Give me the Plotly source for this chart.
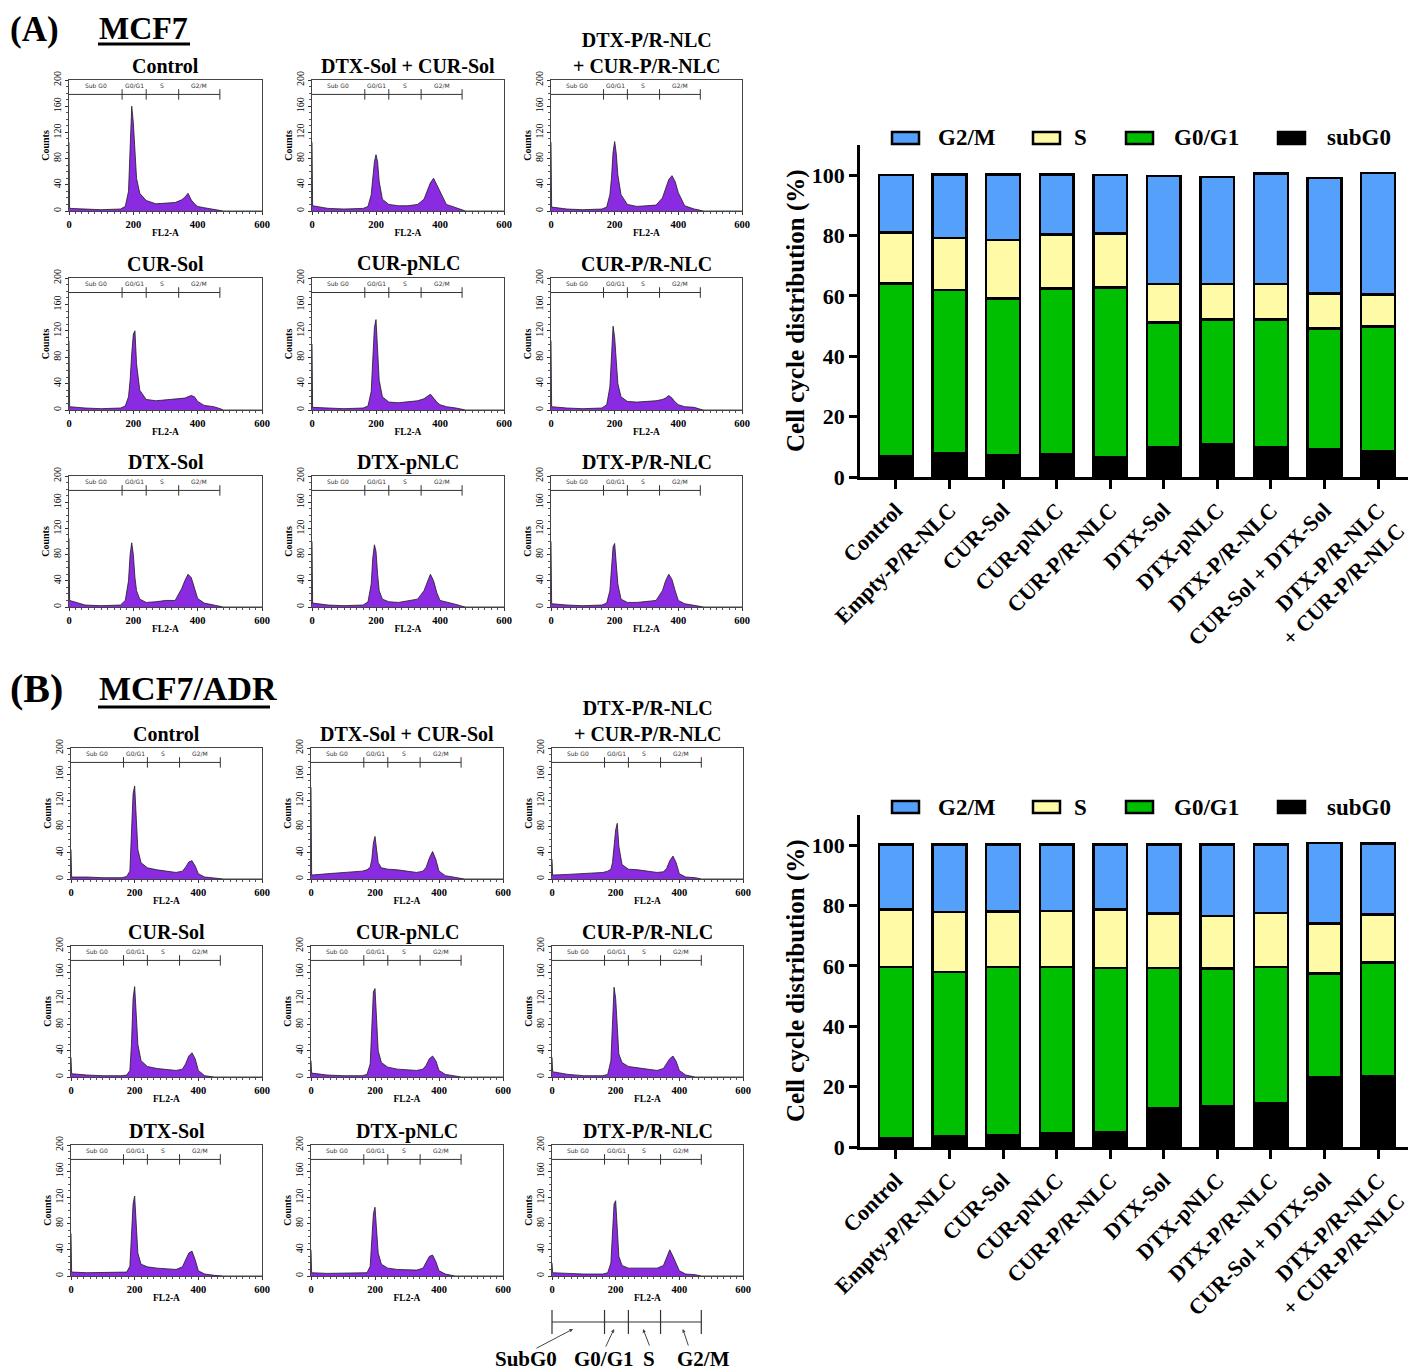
import plotly.graph_objects as go

W, H = 1416, 1372
OFF = 8  # page body margin of the browser
SERIF = "Liberation Serif"
PURPLE = "#8a2be2"

# ---------------- histogram data (counts read at FL2-A grid) ----------------
X_GRID = [0, 2, 50, 100, 160, 175, 185, 190, 195, 200, 205, 210, 220, 240, 270,
          300, 330, 350, 360, 370, 380, 390, 400, 420, 450, 470, 480, 600]

GATE_EDGES = [0, 165, 240, 341, 469]
GATE_NAMES = ["Sub G0", "G0/G1", "S", "G2/M"]
GATE_LEVEL = 178

HIST_TITLES = ["Control", "DTX-Sol + CUR-Sol", "DTX-P/R-NLC<br>+ CUR-P/R-NLC",
               "CUR-Sol", "CUR-pNLC", "CUR-P/R-NLC",
               "DTX-Sol", "DTX-pNLC", "DTX-P/R-NLC"]

# MCF7
a_control = [105, 4, 3, 2, 3, 7, 30, 85, 160, 135, 85, 50, 27, 16, 11, 12, 13, 17, 21, 27, 17, 11, 7, 5, 3, 1, 0, 0]
a_dtx_cur_sol = [105, 8, 4, 3, 4, 7, 25, 50, 75, 86, 75, 45, 18, 10, 8, 8, 10, 18, 32, 43, 50, 40, 28, 10, 5, 2, 0, 0]
a_dtx_cur_pr = [105, 6, 3, 2, 3, 6, 25, 50, 90, 106, 88, 55, 25, 10, 7, 8, 9, 20, 35, 48, 54, 45, 28, 8, 3, 1, 0, 0]
a_cur_sol = [105, 5, 3, 2, 3, 6, 20, 45, 85, 115, 120, 70, 30, 16, 14, 15, 16, 17, 18, 20, 22, 20, 13, 7, 5, 2, 0, 0]
a_cur_pnlc = [100, 4, 3, 2, 3, 6, 28, 75, 125, 137, 85, 45, 20, 12, 11, 12, 14, 17, 20, 24, 18, 12, 8, 5, 3, 1, 0, 0]
a_cur_pr = [105, 5, 3, 2, 3, 8, 35, 85, 127, 110, 70, 40, 20, 13, 12, 13, 14, 16, 18, 22, 18, 12, 8, 5, 4, 1, 0, 0]
a_dtx_sol = [105, 10, 3, 2, 3, 10, 40, 80, 98, 80, 45, 25, 12, 7, 8, 10, 10, 28, 40, 50, 45, 30, 13, 6, 3, 1, 0, 0]
a_dtx_pnlc = [100, 6, 3, 2, 3, 8, 35, 75, 95, 85, 50, 25, 12, 8, 7, 9, 12, 25, 38, 50, 40, 22, 10, 8, 4, 1, 0, 0]
a_dtx_pr = [100, 5, 3, 2, 3, 6, 25, 60, 92, 97, 70, 35, 12, 7, 7, 8, 10, 25, 40, 50, 42, 25, 10, 5, 2, 1, 0, 0]

# MCF7/ADR
b_control = [45, 3, 3, 2, 2, 4, 12, 60, 130, 142, 90, 45, 25, 17, 14, 12, 10, 12, 18, 26, 28, 20, 8, 3, 1, 0, 0, 0]
b_dtx_cur_sol = [140, 6, 8, 10, 12, 14, 18, 30, 55, 65, 45, 25, 17, 15, 14, 12, 10, 12, 18, 32, 42, 30, 12, 5, 2, 0, 0, 0]
b_dtx_cur_pr = [30, 6, 7, 8, 10, 12, 15, 25, 50, 75, 85, 50, 22, 15, 14, 12, 10, 11, 16, 28, 35, 25, 8, 3, 2, 0, 0, 0]
b_cur_sol = [30, 5, 3, 2, 2, 3, 10, 50, 120, 138, 95, 50, 25, 16, 13, 12, 10, 12, 20, 32, 37, 28, 10, 2, 0, 0, 0, 0]
b_cur_pnlc = [25, 6, 3, 2, 2, 4, 20, 80, 130, 135, 80, 40, 22, 15, 12, 11, 10, 12, 18, 28, 32, 25, 10, 4, 1, 0, 0, 0]
b_cur_pr = [30, 8, 4, 2, 2, 4, 25, 90, 137, 120, 70, 35, 22, 16, 14, 12, 10, 13, 20, 28, 32, 24, 10, 3, 0, 0, 0, 0]
b_dtx_sol = [65, 6, 5, 5, 5, 6, 15, 60, 110, 122, 75, 35, 18, 14, 12, 11, 10, 14, 25, 35, 38, 25, 8, 3, 1, 0, 0, 0]
b_dtx_pnlc = [40, 5, 4, 4, 4, 5, 15, 55, 95, 105, 70, 35, 18, 12, 10, 9, 9, 12, 22, 30, 32, 22, 8, 3, 0, 0, 0, 0]
b_dtx_pr = [20, 5, 4, 3, 3, 5, 20, 70, 110, 115, 65, 30, 16, 12, 12, 12, 12, 16, 28, 40, 30, 18, 8, 3, 2, 0, 0, 0]

A_HISTS = [a_control, a_dtx_cur_sol, a_dtx_cur_pr, a_cur_sol, a_cur_pnlc, a_cur_pr,
           a_dtx_sol, a_dtx_pnlc, a_dtx_pr]
B_HISTS = [b_control, b_dtx_cur_sol, b_dtx_cur_pr, b_cur_sol, b_cur_pnlc, b_cur_pr,
           b_dtx_sol, b_dtx_pnlc, b_dtx_pr]

# ---------------- bar chart data ----------------
CATEGORIES = ["Control", "Empty-P/R-NLC", "CUR-Sol", "CUR-pNLC", "CUR-P/R-NLC",
              "DTX-Sol", "DTX-pNLC", "DTX-P/R-NLC", "CUR-Sol + DTX-Sol",
              "DTX-P/R-NLC<br>+ CUR-P/R-NLC"]

A_SUBG0 = [6.9, 8.0, 7.2, 7.7, 6.6, 9.9, 10.7, 9.9, 9.1, 8.6]
A_G0G1 = [57.2, 53.9, 51.9, 54.7, 56.2, 41.3, 41.5, 42.3, 40.1, 41.3]
A_S = [16.9, 17.3, 19.4, 17.9, 17.9, 12.7, 11.7, 11.7, 11.6, 10.5]
A_G2M = [19.0, 21.0, 21.7, 19.9, 19.3, 35.8, 35.5, 36.7, 38.3, 40.4]

B_SUBG0 = [3.0, 3.6, 4.0, 4.6, 4.9, 12.7, 13.6, 14.4, 23.2, 23.5]
B_G0G1 = [56.7, 54.4, 55.7, 55.1, 54.4, 46.6, 45.5, 45.3, 34.3, 37.6]
B_S = [19.0, 19.9, 18.4, 18.5, 19.4, 18.0, 17.4, 17.9, 16.5, 15.9]
B_G2M = [21.5, 22.4, 22.1, 22.0, 21.5, 23.0, 23.8, 22.7, 26.8, 23.6]

PHASES = ["subG0", "G0/G1", "S", "G2/M"]
PHASE_COLORS = {"subG0": "#000000", "G0/G1": "#00bf00", "S": "#fffaa5", "G2/M": "#55a0fa"}
LEGEND_ORDER = ["G2/M", "S", "G0/G1", "subG0"]

# ---------------- helpers ----------------
def px(xp):
    return max(0.0, (xp - OFF) / W)


def py(yp):
    return 1 - (yp - OFF) / H


def sfx(n):
    return "" if n == 1 else str(n)


fig = go.Figure()
layout = {}
annotations = []
shapes = []

HIST_COLS_A = [(69, 262), (312, 504), (551, 742)]
HIST_ROWS_A = [(80, 211), (278, 410), (476, 607)]
HIST_COLS_B = [(71, 262), (311, 503), (552, 743)]
HIST_ROWS_B = [(748, 879), (946, 1077), (1145, 1276)]


def txt(x, y, text, size, xanchor="center", yanchor="middle", weight="bold", **kw):
    d = dict(x=x, y=y, xref="paper", yref="paper", text=text, showarrow=False,
             xanchor=xanchor, yanchor=yanchor,
             font=dict(family=SERIF, size=size, weight=weight, color="black"))
    d.update(kw)
    annotations.append(d)


def add_hist(n, vals, title, cols, rows, r, c):
    s = sfx(n)
    xs, ys = "x" + s, "y" + s
    x0, x1 = cols[c]
    y0, y1 = rows[r]
    fig.add_trace(go.Scatter(x=X_GRID, y=vals, mode="lines", fill="tozeroy",
                             fillcolor=PURPLE, line=dict(color="#1a1a1a", width=0.8),
                             xaxis=xs, yaxis=ys, showlegend=False, hoverinfo="skip"))
    gx, gy = [GATE_EDGES[0], GATE_EDGES[-1], None], [GATE_LEVEL, GATE_LEVEL, None]
    for e in GATE_EDGES[1:]:
        gx += [e, e, None]
        gy += [GATE_LEVEL - 8, GATE_LEVEL + 8, None]
    fig.add_trace(go.Scatter(x=gx, y=gy, mode="lines", line=dict(color="#333", width=1),
                             xaxis=xs, yaxis=ys, showlegend=False, hoverinfo="skip"))
    for k, name in enumerate(GATE_NAMES):
        annotations.append(dict(x=(GATE_EDGES[k] + GATE_EDGES[k + 1]) / 2, y=GATE_LEVEL + 13,
                                xref=xs, yref=ys, text=name, showarrow=False,
                                xanchor="center", yanchor="middle",
                                font=dict(size=6, family="DejaVu Sans", color="#333")))
    layout["xaxis" + s] = dict(
        domain=[px(x0), px(x1)], anchor=ys, range=[0, 600], tickvals=[0, 200, 400, 600],
        automargin=False,
        ticks="outside", ticklen=3, tickwidth=1, tickcolor="#333",
        tickfont=dict(family=SERIF, size=10.5, weight="bold", color="black"),
        showline=True, linecolor="#444", linewidth=1, mirror=True,
        showgrid=False, zeroline=False,
        minor=dict(ticks="outside", ticklen=2, dtick=20, tickcolor="#555", showgrid=False),
        title=dict(text="FL2-A", font=dict(family=SERIF, size=9.5, weight="bold", color="black"),
                   standoff=0))
    layout["yaxis" + s] = dict(
        domain=[py(y1), py(y0)], anchor=xs, range=[0, 200],
        tickvals=[0, 40, 80, 120, 160, 200], tickangle=-90, automargin=False,
        ticks="outside", ticklen=3, tickwidth=1, tickcolor="#333",
        tickfont=dict(family=SERIF, size=10, color="black"),
        showline=True, linecolor="#444", linewidth=1, mirror=True,
        showgrid=False, zeroline=False,
        minor=dict(ticks="outside", ticklen=2, dtick=10, tickcolor="#555", showgrid=False),
        title=dict(text="Counts", font=dict(family=SERIF, size=10, weight="bold", color="black"),
                   standoff=0))
    tx = px((x0 + x1) / 2)
    if "<br>" in title:
        txt(tx, py(y0 - 27), title, 20)
    else:
        txt(tx, py(y0 - 14), title, 20)


n = 1
for i, vals in enumerate(A_HISTS):
    add_hist(n, vals, HIST_TITLES[i], HIST_COLS_A, HIST_ROWS_A, i // 3, i % 3)
    n += 1
for i, vals in enumerate(B_HISTS):
    add_hist(n, vals, HIST_TITLES[i], HIST_COLS_B, HIST_ROWS_B, i // 3, i % 3)
    n += 1


# ---------------- bar charts ----------------
def add_bars(n, series, top, bottom, legend_y):
    s = sfx(n)
    xs, ys = "x" + s, "y" + s
    for ph in PHASES:
        fig.add_trace(go.Bar(x=CATEGORIES, y=series[ph], name=ph, width=0.63,
                             marker=dict(color=PHASE_COLORS[ph], line=dict(color="black", width=2.5)),
                             xaxis=xs, yaxis=ys, showlegend=False, hoverinfo="skip"))
    layout["xaxis" + s] = dict(
        domain=[px(860), px(1414)], anchor=ys, type="category", range=[-0.67, 9.67],
        automargin=False,
        tickangle=-45, ticks="outside", ticklen=9, tickwidth=2.5, tickcolor="black",
        tickfont=dict(family=SERIF, size=22, weight="bold", color="black"),
        showline=True, linecolor="black", linewidth=2.5, showgrid=False, zeroline=False)
    layout["yaxis" + s] = dict(
        domain=[py(bottom), py(top)], anchor=xs, range=[0, 110], automargin=False,
        tickvals=[0, 20, 40, 60, 80, 100], ticks="outside", ticklen=8, tickwidth=2.5,
        tickcolor="black", tickfont=dict(family=SERIF, size=22, weight="bold", color="black"),
        showline=True, linecolor="black", linewidth=2.5, showgrid=False, zeroline=False)
    txt(px(796), py((top + bottom) / 2), "Cell cycle distribution (%)", 25, textangle=-90)
    box_x = [892, 1033, 1126, 1278]
    text_x = [936, 1072, 1172, 1325]
    for k, ph in enumerate(LEGEND_ORDER):
        shapes.append(dict(type="rect", xref="paper", yref="paper",
                           x0=px(box_x[k]), x1=px(box_x[k] + 27),
                           y0=py(legend_y + 6), y1=py(legend_y - 6),
                           fillcolor=PHASE_COLORS[ph], line=dict(color="black", width=2.5)))
        txt(px(text_x[k]), py(legend_y), ph, 23, xanchor="left")


add_bars(19, {"subG0": A_SUBG0, "G0/G1": A_G0G1, "S": A_S, "G2/M": A_G2M}, 145, 477, 138)
add_bars(20, {"subG0": B_SUBG0, "G0/G1": B_G0G1, "S": B_S, "G2/M": B_G2M}, 815, 1147, 807)

# ---------------- panel headings ----------------
txt(0, 1, "(A)", 35, xanchor="left", yanchor="top")
txt(px(97), 1, "MCF7", 32, xanchor="left", yanchor="top")
shapes.append(dict(type="line", xref="paper", yref="paper", x0=px(98), x1=px(190),
                   y0=py(44), y1=py(44), line=dict(color="black", width=3)))
txt(0, py(688), "(B)", 40, xanchor="left")
txt(px(97), py(688), "MCF7/ADR", 34, xanchor="left")
shapes.append(dict(type="line", xref="paper", yref="paper", x0=px(98), x1=px(270),
                   y0=py(707), y1=py(707), line=dict(color="black", width=3)))

# ---------------- gate key under last histogram ----------------
KEY_LABELS = ["SubG0", "G0/G1", "S", "G2/M"]
KEY_LABEL_X = [-82, 164, 304, 477]
KEY_ARROW_TIP = [66, 195, 286, 411]
KEY_ARROW_OFF = [(-38, 20), (-9, 19), (7, 18), (6, 18)]
kx0, kx1 = HIST_COLS_B[2]


def key_px(v):
    return px(kx0 + v / 600 * (kx1 - kx0))


shapes.append(dict(type="line", xref="paper", yref="paper", x0=key_px(GATE_EDGES[0]),
                   x1=key_px(GATE_EDGES[-1]), y0=py(1322), y1=py(1322),
                   line=dict(color="#333", width=1.2)))
for e in GATE_EDGES:
    shapes.append(dict(type="line", xref="paper", yref="paper", x0=key_px(e), x1=key_px(e),
                       y0=py(1334), y1=py(1310), line=dict(color="#333", width=1.2)))
for k, lab in enumerate(KEY_LABELS):
    txt(key_px(KEY_LABEL_X[k]), py(1359), lab, 21)
    annotations.append(dict(x=key_px(KEY_ARROW_TIP[k]), y=py(1329), xref="paper", yref="paper",
                            text="", showarrow=True, arrowhead=2, arrowsize=0.7, arrowwidth=1,
                            arrowcolor="#444", ax=KEY_ARROW_OFF[k][0], ay=KEY_ARROW_OFF[k][1]))

fig.update_layout(
    width=W, height=H, margin=dict(l=0, r=0, t=0, b=0, autoexpand=False),
    paper_bgcolor="white", plot_bgcolor="white", barmode="stack",
    showlegend=False, annotations=annotations, shapes=shapes, **layout)

fig.write_html("out.html")
